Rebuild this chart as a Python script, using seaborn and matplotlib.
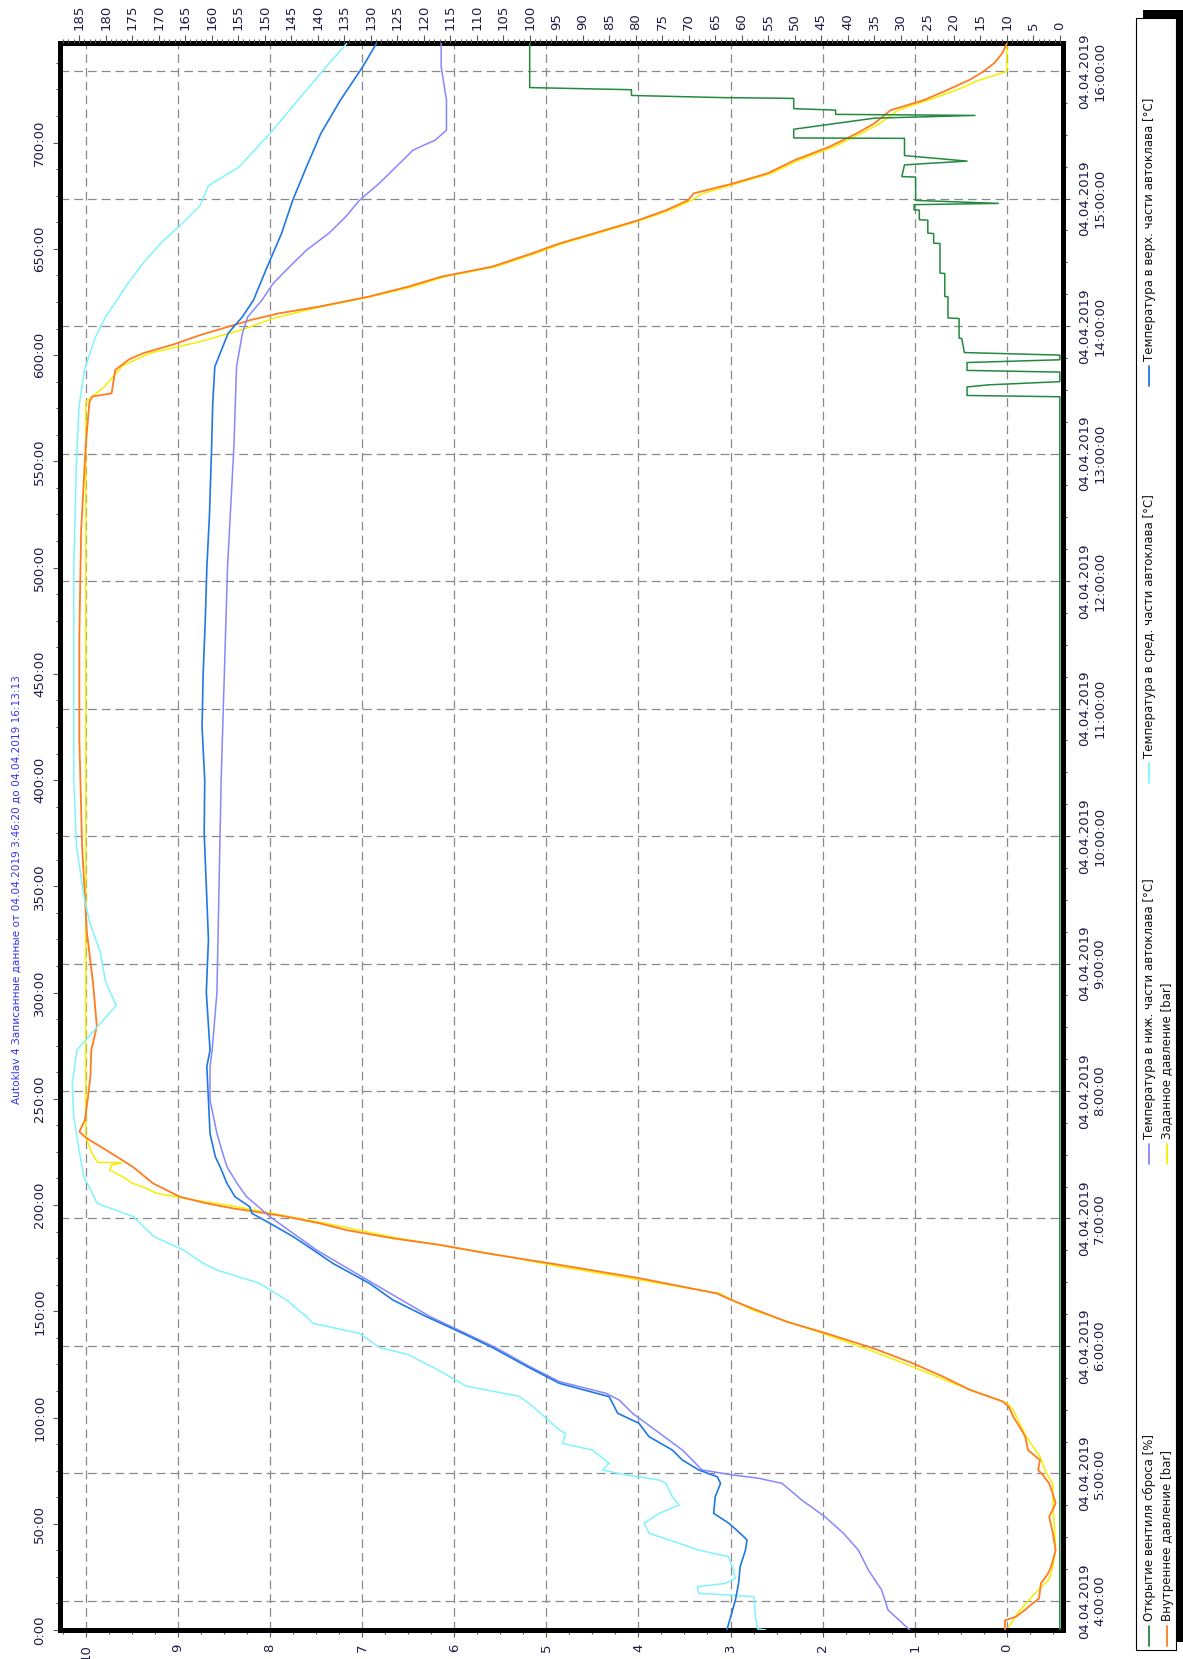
import matplotlib
matplotlib.use("Agg")
import matplotlib.pyplot as plt
import seaborn as sns
from matplotlib.lines import Line2D
from matplotlib.patches import Rectangle
from matplotlib.ticker import MultipleLocator, FixedLocator, FuncFormatter

# ------------------------------------------------------------
# Data (time in minutes since 3:46:20)
# ------------------------------------------------------------
TITLE = "Autoklav 4 Записанные данные от 04.04.2019 3:46:20 до 04.04.2019 16:13:13"
START = "3:46:20"
END = "16:13:13"
DATE = "04.04.2019"
HOURS = ["4:00:00", "5:00:00", "6:00:00", "7:00:00", "8:00:00", "9:00:00", "10:00:00",
         "11:00:00", "12:00:00", "13:00:00", "14:00:00", "15:00:00", "16:00:00"]

# internal pressure [bar]
p_in_t = [0, 4.5, 6.3, 9.5, 12.5, 14.9, 21.9, 26, 29.7, 37.6, 45.5, 53.3, 59.6, 64, 69, 73, 75.3, 80,
          84.7, 91, 94.1, 100.4, 105.1, 107.5, 113, 119.2, 125.5, 132.6, 139.6, 145.1, 150.6, 155.3,
          158.4, 165.5, 171.8, 177.3, 181.2, 184.3, 188.2, 191.4, 194.5, 196.1, 198.4, 200.8, 203.9,
          210.2, 218, 225.9, 231.4, 234.5, 240, 249.4, 260.4, 272.9, 284, 304, 329, 369, 419, 468,
          518, 558, 578, 580.5, 582, 593, 598, 601, 605, 609.4, 616.5, 619.6, 622.7, 627.5, 632.2,
          636.9, 641.6, 647.8, 652.5, 657.2, 663.5, 668.2, 672.9, 676.1, 680.8, 685.5, 691.8, 698.0,
          704.3, 709.0, 715.3, 720.0, 724.7, 729.4, 733.3, 737.3, 742.0, 746.7]
p_in_v = [0.02, 0.02, -0.10, -0.20, -0.28, -0.35, -0.37, -0.44, -0.48, -0.53, -0.50, -0.46, -0.53,
          -0.50, -0.46, -0.39, -0.34, -0.36, -0.23, -0.20, -0.16, -0.07, -0.02, 0.04, 0.40, 0.69,
          1.02, 1.45, 1.96, 2.39, 2.72, 2.99, 3.15, 3.98, 4.85, 5.65, 6.15, 6.66, 7.17, 7.46, 7.82,
          8.04, 8.40, 8.69, 8.98, 9.27, 9.49, 9.78, 9.99, 10.07, 10.01, 9.98, 9.95, 9.94, 9.88, 9.92,
          9.99, 10.04, 10.07, 10.07, 10.05, 10.0, 9.96, 9.93, 9.72, 9.68, 9.53, 9.37, 9.05, 8.76,
          8.21, 7.91, 7.48, 6.93, 6.50, 6.14, 5.59, 5.16, 4.86, 4.49, 4.00, 3.70, 3.46, 3.40, 2.97,
          2.60, 2.30, 1.93, 1.63, 1.44, 1.26, 0.90, 0.65, 0.41, 0.26, 0.14, 0.05, 0.0]

# set pressure [bar]
p_set_t = [0, 8, 16.1, 23.9, 30, 37.6, 59.6, 69, 73.7, 81.6, 91, 103.5, 106.7, 116.1, 123.9, 131.8,
           139.6, 150.6, 158.4, 164.7, 171, 177.3, 184.3, 191.4, 199.2, 202.4, 205.5, 208.6, 210.2,
           213.3, 216.5, 218.8, 219.9, 220.1, 224, 232, 578, 585, 595, 601, 606.3, 612, 617.5,
           622.7, 627.5, 632.2, 636.9, 641.6, 647.8, 652.5, 657.2, 663.5, 668.2, 672.9, 676.1,
           680.8, 685.5, 691.8, 698, 704.3, 709, 715.3, 720, 724.7, 729.4, 733.5, 746.9]
p_set_v = [0.0, -0.12, -0.28, -0.46, -0.50, -0.53, -0.50, -0.50, -0.43, -0.36, -0.21, -0.07, 0.0,
           0.58, 1.02, 1.49, 2.0, 2.76, 3.12, 3.98, 4.85, 5.62, 6.60, 7.40, 8.36, 8.83, 9.23, 9.38,
           9.49, 9.60, 9.74, 9.72, 9.61, 9.87, 9.93, 10.0, 10.0, 9.8, 9.6, 9.3, 8.76, 8.3, 7.95,
           7.45, 6.9, 6.45, 6.10, 5.55, 5.12, 4.82, 4.45, 3.97, 3.66, 3.42, 3.30, 2.93, 2.56, 2.25,
           1.88, 1.58, 1.38, 1.18, 0.85, 0.55, 0.30, 0.0, 0.0]

# upper autoclave temperature [°C]
t_top_t = [0, 7, 14.1, 21.9, 29.8, 37.6, 42.4, 45.5, 50.2, 54.9, 62.7, 69, 72.1, 75.3, 80, 84.7, 91,
           97.3, 102, 109.8, 116.1, 124, 132.9, 139.6, 147.5, 155.3, 163.1, 172.5, 178.8, 185.1,
           191.4, 196.1, 199.2, 203.9, 210.2, 218, 222.7, 233.7, 249.4, 265.1, 272.9, 300, 325,
           350, 375, 400, 425, 450, 475, 500, 525, 556.8, 576.5, 594.5, 610.2, 618, 625.9, 641.6,
           657.3, 672.9, 688.6, 704.3, 720, 735.7, 746.7]
t_top_v = [62.8, 62.0, 61.2, 60.6, 60.3, 59.3, 59.0, 60.3, 62.4, 65.3, 65.0, 64.0, 64.6, 68.1, 71.2,
           73.1, 77.5, 79.4, 83.4, 85.0, 94.4, 100.5, 107.0, 112.6, 119.5, 125.8, 130.2, 137.1,
           140.8, 144.6, 149.0, 152.4, 152.8, 155.6, 157.1, 158.4, 159.3, 160.3, 160.6, 160.9,
           160.3, 161.0, 160.6, 161.0, 161.4, 161.3, 161.8, 161.6, 161.2, 160.9, 160.4, 160.0,
           159.8, 159.4, 156.9, 154.2, 152.1, 149.5, 146.8, 144.7, 142.1, 139.4, 135.7, 131.5,
           128.9]

# middle autoclave temperature [°C]
t_mid_t = [0, 0.5, 6.3, 15.7, 17.3, 20.4, 21.9, 24.3, 29.8, 34.5, 37.6, 40.8, 45.5, 50.2, 54.9, 58.8,
           62.7, 69, 70.6, 73, 75.3, 78.4, 84.7, 87.8, 92.5, 94.1, 104.8, 110, 114.8, 122, 129.7,
           132.9, 139.6, 144.3, 147.5, 155.3, 163.1, 169.4, 172.5, 178.8, 185.1, 194.5, 200.8,
           207.1, 213.3, 225.9, 241.6, 257.3, 272.9, 284, 294, 305, 319, 333, 344, 369, 400, 450,
           500, 550, 576, 593, 608, 618, 633, 643, 653, 662, 670.3, 679.7, 688.6, 704.3, 720, 735.7,
           746.7]
t_mid_v = [55.5, 57.0, 57.4, 57.7, 68.1, 68.4, 63.1, 61.2, 61.8, 62.5, 68.1, 71.8, 77.5, 78.4, 75.6,
           71.8, 73.1, 74.3, 75.6, 81.9, 86.3, 85.0, 88.2, 93.8, 93.2, 94.4, 99.2, 102.0, 112.0,
           117.0, 123.0, 128.3, 132.1, 140.9, 142.1, 145.9, 150.9, 159.0, 161.5, 165.3, 170.9,
           174.7, 181.6, 182.8, 184.1, 185.0, 186.0, 186.3, 185.4, 181.5, 178.0, 180.0, 181.0,
           183.0, 184.0, 185.5, 186.0, 186.0, 186.0, 185.5, 185.0, 184.0, 182.0, 180.0, 176.0,
           173.0, 169.5, 165.5, 162.2, 160.6, 154.8, 149.0, 143.7, 138.4, 134.5]

# lower autoclave temperature [°C]
t_low_t = [0, 9.4, 18.8, 28.2, 37.6, 45.5, 53.3, 61.2, 69, 71.4, 73, 75.3, 78.4, 84.7, 94.1, 102,
           108.2, 111.4, 116.9, 124, 132.9, 147.5, 163.1, 178.8, 194.5, 203.9, 210.2, 218, 226,
           233.7, 249.4, 265.1, 272.9, 300, 350, 400, 450, 500, 556.8, 594.5, 610.2, 618, 625.9,
           633.7, 641.6, 649.4, 657.3, 665.1, 672.9, 680.8, 688.6, 696.5, 701.2, 705.9, 720, 735.7,
           746.7]
t_low_v = [28.3, 32.4, 33.6, 36.1, 38.0, 40.8, 44.3, 48.7, 52.4, 56.8, 61.8, 67.5, 68.7, 71.2, 76.3,
           80.6, 83.1, 85.6, 94.4, 100.0, 106.4, 118.8, 129.5, 140.2, 149.0, 153.4, 155.2, 157.1,
           158.1, 159.0, 160.3, 160.3, 159.9, 159.0, 158.6, 158.2, 157.6, 157.0, 155.8, 155.3,
           154.2, 153.2, 150.5, 148.4, 145.3, 142.1, 137.9, 134.7, 132.1, 128.4, 125.2, 122.0,
           117.8, 115.7, 115.7, 116.7, 116.7]

# relief valve opening [%]
valve_t = [0, 580.4, 581.0, 585.0, 586.0, 587.5, 592.0, 592.8, 596.5, 597.8, 600.0, 601.2, 607.8,
           608.0, 617.2, 617.5, 627.4, 627.6, 638.4, 638.6, 652.5, 652.7, 657.2, 657.4, 663.5,
           663.7, 668.2, 668.4, 670.8, 671.4, 672.8, 683.8, 684.0, 689.5, 690.2, 691.3, 693.9,
           702.0, 702.2, 706.3, 711.5, 712.8, 713.3, 715.3, 716.0, 720.8, 721.2, 722.2, 724.9,
           725.9, 746.9]
valve_v = [0, 0, 17.5, 17.5, 13.5, 0, 0, 17.5, 17.5, 0, 0, 18.0, 18.5, 19.0, 19.0, 21.1, 21.1, 21.7,
           21.7, 22.6, 22.6, 23.8, 23.8, 24.9, 24.9, 26.5, 26.5, 27.5, 27.5, 11.6, 27.2, 27.2, 29.8,
           29.3, 25.0, 17.5, 29.3, 29.3, 50.2, 50.2, 35.0, 16.0, 42.3, 42.3, 50.2, 50.2, 63.9, 80.8,
           80.8, 100.0, 100.0]

LEGEND = [
    ("Открытие вентиля сброса [%]", "#23893f"),
    ("Внутреннее давление [bar]", "#ff7c1f"),
    ("Температура в ниж. части автоклава [°C]", "#8787ff"),
    ("Заданное давление [bar]", "#f4ef00"),
    ("Температура в сред. части автоклава [°C]", "#7ff4ff"),
    ("Температура в верх. части автоклава [°C]", "#1f78e6"),
]

# ------------------------------------------------------------
# Style / helpers
# ------------------------------------------------------------
sns.set_theme(style="white")
plt.rcParams["font.family"] = ["DejaVu Sans"]

W, H, DPI = 1183, 1659, 100
LBL = "#1c1c48"
GRID = dict(color="#8a8a8a", lw=0.9, ls=(0, (7, 4)))


def to_min(hms):
    h, m, s = (int(v) for v in hms.split(":"))
    return h * 60 + m + s / 60


t0 = to_min(START)
t_end = to_min(END) - t0
hour_t = [to_min(h) - t0 for h in HOURS]
quarter_t = [hour_t[0] + 15 * k for k in range(0, 50) if hour_t[0] + 15 * k <= t_end]

fig = plt.figure(figsize=(W / DPI, H / DPI), dpi=DPI)


def fx(px):
    return px / W


def fy(py):
    return 1 - py / H


# axes rotated: time runs bottom->top, values right->left
ax = fig.add_axes([fx(60), fy(1630), 1003 / W, 1587 / H])
ax.set_facecolor("white")
ax.set_xlim(10.28, -0.61)
ax.set_ylim(0, t_end)

for t in hour_t:
    ax.axhline(t, zorder=0.5, **GRID)
ax.grid(axis="x", which="major", zorder=0.5, **GRID)
ax.grid(axis="y", visible=False)

sns.lineplot(x=p_in_v, y=p_in_t, orient="y", sort=False, estimator=None, ax=ax,
             color=LEGEND[1][1], lw=1.3, zorder=3)
sns.lineplot(x=p_set_v, y=p_set_t, orient="y", sort=False, estimator=None, ax=ax,
             color=LEGEND[3][1], lw=1.1, zorder=2.5)

ax2 = ax.twiny()
ax2.set_xlim(188.6, -0.6)
ax2.set_ylim(0, t_end)
sns.lineplot(x=valve_v, y=valve_t, orient="y", sort=False, estimator=None, ax=ax2,
             color=LEGEND[0][1], lw=1.1)
sns.lineplot(x=t_low_v, y=t_low_t, orient="y", sort=False, estimator=None, ax=ax2,
             color=LEGEND[2][1], lw=1.1)
sns.lineplot(x=t_mid_v, y=t_mid_t, orient="y", sort=False, estimator=None, ax=ax2,
             color=LEGEND[4][1], lw=1.1)
sns.lineplot(x=t_top_v, y=t_top_t, orient="y", sort=False, estimator=None, ax=ax2,
             color=LEGEND[5][1], lw=1.2)
ax2.set_xlabel("")
ax2.set_ylabel("")
ax.set_xlabel("")
ax.set_ylabel("")

# frame
for sp in ax.spines.values():
    sp.set_visible(True)
    sp.set_color("black")
    sp.set_linewidth(3.6)
for sp in ax2.spines.values():
    sp.set_visible(False)

# pressure axis (image bottom)
ax.xaxis.set_major_locator(MultipleLocator(1))
ax.xaxis.set_minor_locator(MultipleLocator(0.25))
ax.xaxis.set_major_formatter(FuncFormatter(lambda v, p: f"{v:.0f}"))
# minutes axis (image left)
ax.yaxis.set_major_locator(MultipleLocator(50))
ax.yaxis.set_minor_locator(MultipleLocator(12.5))
ax.yaxis.set_major_formatter(FuncFormatter(lambda v, p: f"{v:.0f}:00"))
ax.tick_params(axis="both", which="both", direction="out", color="#555555", width=0.8,
               labelcolor=LBL, labelsize=9.5, bottom=True, left=True, top=False, right=False)
ax.tick_params(which="major", length=5, pad=5)
ax.tick_params(which="minor", length=3)
for lab in ax.get_xticklabels():
    lab.set_rotation(90)
for lab in ax.get_yticklabels():
    lab.set_rotation(90)
    lab.set_va("center")

# temperature axis (image top)
ax2.xaxis.set_major_locator(MultipleLocator(5))
ax2.xaxis.set_minor_locator(MultipleLocator(1))
ax2.xaxis.set_major_formatter(FuncFormatter(lambda v, p: f"{v:.0f}"))
ax2.tick_params(axis="x", which="both", direction="out", color="#555555", width=0.8,
                labelcolor=LBL, labelsize=9.5, top=True, bottom=False, labeltop=True,
                labelbottom=False)
ax2.tick_params(axis="x", which="major", length=6, pad=3)
ax2.tick_params(axis="x", which="minor", length=3)
ax2.tick_params(axis="y", left=False, right=False, labelleft=False, labelright=False)
for lab in ax2.get_xticklabels():
    lab.set_rotation(90)

# clock time axis (image right)
sec = ax.secondary_yaxis("right")
sec.set_yticks(hour_t, labels=[f"{DATE}\n{h}" for h in HOURS])
sec.yaxis.set_minor_locator(FixedLocator(quarter_t))
sec.spines["right"].set_visible(False)
sec.tick_params(which="both", direction="out", color="#555555", width=0.8,
                labelcolor=LBL, labelsize=9.5)
sec.tick_params(which="major", length=5, pad=6)
sec.tick_params(which="minor", length=3)
for lab in sec.get_yticklabels():
    lab.set_rotation(90)
    lab.set_va("center")
    lab.set_ha("left")
    lab.set_multialignment("center")

# title (rotated, reads bottom->top)
fig.text(fx(17), fy(890), TITLE, rotation=90, ha="center", va="center",
         color="#3535ee", fontsize=7.6)

# legend box (drawn by hand, rotated)
fig.patches.append(Rectangle((fx(1143), fy(1642)), fx(40), 1632 / H, transform=fig.transFigure,
                             facecolor="black", edgecolor="none"))
fig.patches.append(Rectangle((fx(1136), fy(1650)), fx(40), 1632 / H, transform=fig.transFigure,
                             facecolor="white", edgecolor="black", lw=0.8))
col_y = [1648, 1166, 785, 388]
row_x = [1149, 1167]
order = [(0, 0), (1, 0), (0, 1), (1, 1), (0, 2), (0, 3)]
for (label, color), (row, col) in zip(LEGEND, order):
    x = row_x[row]
    y0 = col_y[col]
    fig.lines.append(Line2D([fx(x), fx(x)], [fy(y0 - 2), fy(y0 - 22)], transform=fig.transFigure,
                            color=color, lw=1.3))
    fig.text(fx(x), fy(y0 - 27), label, rotation=90, ha="center", va="bottom",
             fontsize=8.5, color="#111111")

fig.savefig("out.png", dpi=DPI)
